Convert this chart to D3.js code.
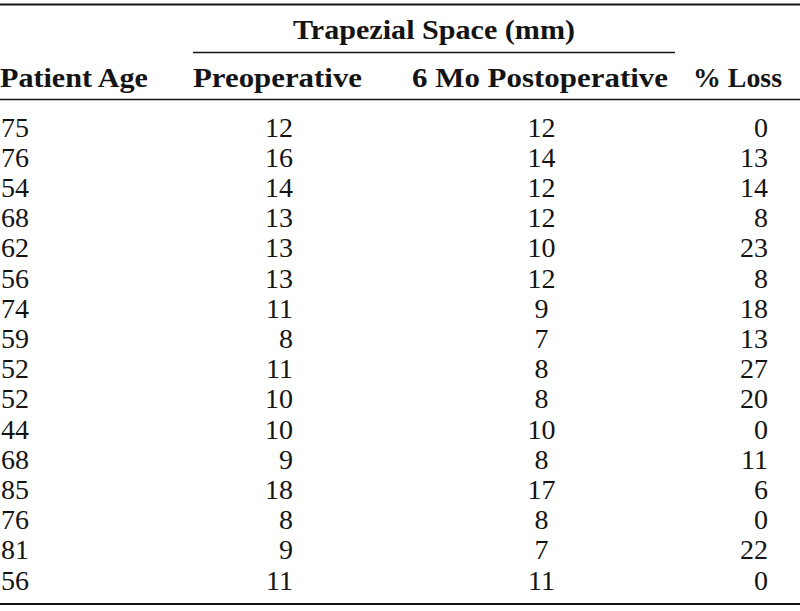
<!DOCTYPE html>
<html>
<head>
<meta charset="utf-8">
<script src="https://cdn.jsdelivr.net/npm/d3@7"></script>
<style>
  html, body { margin: 0; padding: 0; background: #fff; }
  svg { display: block; }
</style>
</head>
<body>
<svg id="chart" width="800" height="611"></svg>
<script>
// ---- data ----
const spanHeader = "Trapezial Space (mm)";
const columnHeaders = ["Patient Age", "Preoperative", "6 Mo Postoperative", "% Loss"];
const patientAge = [75, 76, 54, 68, 62, 56, 74, 59, 52, 52, 44, 68, 85, 76, 81, 56];
const preoperative = [12, 16, 14, 13, 13, 13, 11, 8, 11, 10, 10, 9, 18, 8, 9, 11];
const postoperative = [12, 14, 12, 12, 10, 12, 9, 7, 8, 8, 10, 8, 17, 8, 7, 11];
const percentLoss = [0, 13, 14, 8, 23, 8, 18, 13, 27, 20, 0, 11, 6, 0, 22, 0];

const columns = [patientAge, preoperative, postoperative, percentLoss];

// ---- layout ----
const svg = d3.select("#chart");
const W = 800;
const ink = "#141414";
const font = "'Liberation Serif', 'Times New Roman', serif";

const y = d3.scalePoint().domain(d3.range(patientAge.length)).range([136.5, 589.5]);

// column anchors: [x, text-anchor]
const colX = d3.scaleOrdinal().domain([0, 1, 2, 3]).range([1, 293, 541.5, 768]);
const colAnchor = ["start", "end", "middle", "end"];

// header extents (left, right) for fitting text width
const headerBox = [[0, 148], [193, 362], [412, 668], [693, 782]];

// rules
svg.append("line").attr("x1", 0).attr("x2", W).attr("y1", 4.5).attr("y2", 4.5)
  .attr("stroke", ink).attr("stroke-width", 2);
svg.append("line").attr("x1", 193).attr("x2", 675).attr("y1", 52.5).attr("y2", 52.5)
  .attr("stroke", ink).attr("stroke-width", 1.6);
svg.append("line").attr("x1", 0).attr("x2", W).attr("y1", 99.5).attr("y2", 99.5)
  .attr("stroke", ink).attr("stroke-width", 1.6);
svg.append("line").attr("x1", 0).attr("x2", W).attr("y1", 604).attr("y2", 604)
  .attr("stroke", ink).attr("stroke-width", 2);

// spanning header
svg.append("text")
  .attr("x", 293).attr("y", 39)
  .attr("font-family", font).attr("font-weight", "bold").attr("font-size", 27)
  .attr("fill", ink)
  .attr("textLength", 282).attr("lengthAdjust", "spacingAndGlyphs")
  .text(spanHeader);

// column headers
svg.selectAll("text.colhead").data(columnHeaders).enter().append("text")
  .attr("class", "colhead")
  .attr("x", (d, i) => headerBox[i][0])
  .attr("y", 87)
  .attr("font-family", font).attr("font-weight", "bold").attr("font-size", 27)
  .attr("fill", ink)
  .attr("textLength", (d, i) => headerBox[i][1] - headerBox[i][0])
  .attr("lengthAdjust", "spacingAndGlyphs")
  .text(d => d);

// body cells
columns.forEach((col, ci) => {
  svg.selectAll("text.c" + ci).data(col).enter().append("text")
    .attr("class", "c" + ci)
    .attr("x", colX(ci))
    .attr("y", (d, i) => y(i))
    .attr("text-anchor", colAnchor[ci])
    .attr("font-family", font).attr("font-size", 28)
    .attr("fill", ink)
    .text(d => d);
});
</script>
</body>
</html>
